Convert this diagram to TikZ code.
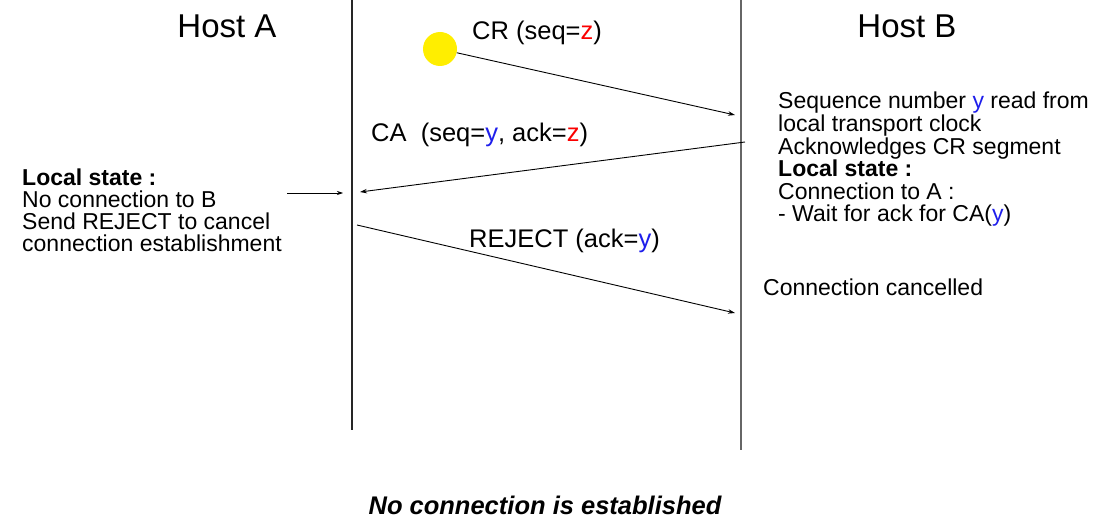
\documentclass[tikz,border=0pt]{standalone}
\usepackage{fontspec}
\setmainfont{Liberation Sans}
\usetikzlibrary{arrows.meta}
\definecolor{seqred}{RGB}{250,0,0}
\definecolor{seqblue}{RGB}{30,30,235}
\definecolor{dotyellow}{RGB}{255,238,0}
\newcommand{\zz}{\textcolor{seqred}{z}}
\newcommand{\yy}{\textcolor{seqblue}{y}}
\tikzset{
  host/.style={anchor=base, inner sep=0pt, font=\fontsize{33}{36}\selectfont},
  msglabel/.style={anchor=base west, inner sep=0pt, font=\fontsize{25.5}{28}\selectfont},
  note/.style={anchor=north west, inner sep=0pt, align=left},
  msg/.style={-{Stealth[length=7pt,width=4.5pt]}, line width=0.9pt},
  lifeline/.style={line width=1.3pt}
}
\begin{document}
\begin{tikzpicture}[x=1pt,y=-1pt]
  \useasboundingbox (0,0) rectangle (1095,524);

  % Hosts and their time lines
  \node[host] (hostA) at (227,38) {Host A};
  \node[host] (hostB) at (907,38) {Host B};
  \coordinate (aTop) at (352,0);
  \coordinate (aBot) at (352,430);
  \coordinate (bTop) at (741,0);
  \coordinate (bBot) at (741,450);
  \draw[lifeline, black!85] (aTop) -- (aBot);
  \draw[lifeline, black!60, line width=1.8pt] (bTop) -- (bBot);

  % CR segment
  \node[circle, fill=dotyellow, minimum size=34pt, inner sep=0pt] (start) at (440,49) {};
  \coordinate (crEnd) at (735,115);
  \draw[msg] (start) -- (crEnd);
  \node[msglabel] (crLabel) at (472,40) {CR (seq=\zz)};

  % CA segment
  \coordinate (caStart) at (745,142);
  \coordinate (caEnd) at (360,192);
  \draw[msg] (caStart) -- (caEnd);
  \node[msglabel] (caLabel) at (371,142) {CA\ \ (seq=\yy, ack=\zz)};

  % REJECT segment
  \coordinate (rjStart) at (357,225);
  \coordinate (rjEnd) at (735,313);
  \draw[msg] (rjStart) -- (rjEnd);
  \node[msglabel] (rjLabel) at (469,247) {REJECT (ack=\yy)};

  % State of host A
  \node[note, font=\fontsize{23}{22}\selectfont] (stateA) at (22,169)
    {\textbf{Local state :}\\No connection to B\\Send REJECT to cancel\\connection establishment};
  \coordinate (pointFrom) at (287,193);
  \coordinate (pointTo) at (343,193);
  \draw[msg, line width=0.7pt, -{Stealth[length=6pt,width=4pt]}] (pointFrom) -- (pointTo);

  % State of host B
  \node[note, font=\fontsize{23}{22.6}\selectfont] (stateB) at (778,92)
    {Sequence number \yy\ read from\\local transport clock\\Acknowledges CR segment\\\textbf{Local state :}\\Connection to A :\\- Wait for ack for CA(\yy)};
  \node[anchor=base west, inner sep=0pt, font=\fontsize{23}{25}\selectfont] (cancelB) at (763,295) {Connection cancelled};

  % Result
  \node[anchor=base, inner sep=0pt, font=\fontsize{25.5}{28}\selectfont\bfseries\itshape] (result) at (545,514)
    {No connection is established};
\end{tikzpicture}
\end{document}
